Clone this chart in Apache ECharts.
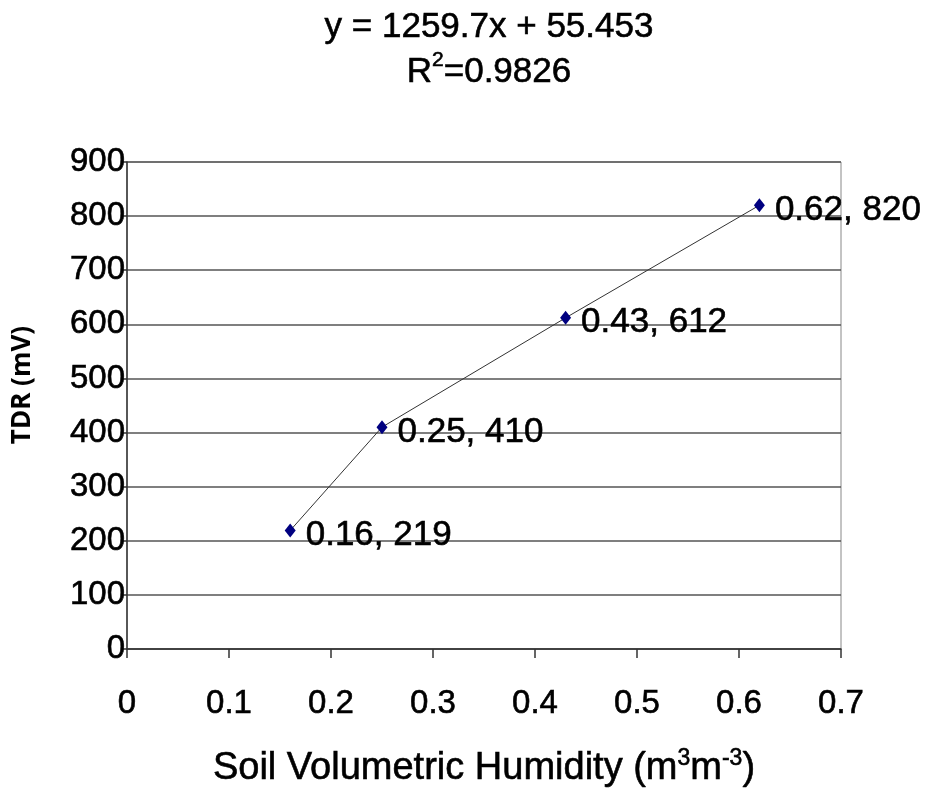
<!DOCTYPE html>
<html><head><meta charset="utf-8">
<script src="https://cdn.jsdelivr.net/npm/echarts@6/dist/echarts.min.js"></script>
<style>html,body{margin:0;padding:0;background:#fff}#c{width:925px;height:791px}</style>
</head><body><div id="c"></div>
<script>
const humidity = [0.16, 0.25, 0.43, 0.62];
const tdr = [219, 410, 612, 820];
const xTicks = [0, 0.1, 0.2, 0.3, 0.4, 0.5, 0.6, 0.7];
const yTicks = [0, 100, 200, 300, 400, 500, 600, 700, 800, 900];
const equationText = 'y = 1259.7x + 55.453';
const r2Value = '0.9826';

const points = humidity.map((x, i) => [x, tdr[i]]);
const FONT = 'Liberation Sans, Arial, sans-serif';
const HEAVY = { textBorderColor: '#000', textBorderWidth: 0.6 };
const chart = echarts.init(document.getElementById('c'));
chart.setOption({
  animation: false,
  backgroundColor: '#fff',
  title: {
    left: 484, textAlign: 'center', top: 0,
    text: '{a|' + equationText + '}\n{a|R}{s|2}{a|=' + r2Value + '}',
    textStyle: {
      rich: {
        a: Object.assign({ fontFamily: FONT, fontWeight: 'normal', fontSize: 35, color: '#000', lineHeight: 45 }, HEAVY),
        s: Object.assign({ fontFamily: FONT, fontWeight: 'normal', fontSize: 21, color: '#000', verticalAlign: 'top', lineHeight: 45, padding: [0,0,14,0] }, HEAVY)
      }
    }
  },
  grid: { left: 127, right: 84, top: 162, bottom: 142, outerBoundsMode: 'none', containLabel: false,
    show: true, borderColor: '#888', borderWidth: 1 },
  xAxis: {
    type: 'value', min: 0, max: 0.7, interval: 0.1,
    axisLine: { lineStyle: { color: '#333', width: 1.5 } },
    axisTick: { show: true, length: 9, lineStyle: { color: '#333', width: 1.5 } },
    splitLine: { show: false },
    axisLabel: Object.assign({ margin: 38, fontFamily: FONT, fontSize: 33, color: '#000',
      formatter: v => { const t = xTicks.find(k => Math.abs(k - v) < 1e-9); return t === undefined ? '' : String(t); } }, HEAVY),
    name: '{a|Soil Volumetric Humidity (m}{s|3}{a|m}{s|-3}{a|)}',
    nameLocation: 'middle', nameGap: 98,
    nameTextStyle: {
      rich: {
        a: Object.assign({ fontFamily: FONT, fontSize: 38, color: '#000', lineHeight: 44 }, HEAVY),
        s: Object.assign({ fontFamily: FONT, fontSize: 23, color: '#000', verticalAlign: 'top', lineHeight: 44, padding: [0,0,16,0] }, HEAVY)
      }
    }
  },
  yAxis: {
    type: 'value', min: 0, max: 900, interval: 100,
    axisLine: { show: true, lineStyle: { color: '#333', width: 1.5 } },
    axisTick: { show: true, length: 5, lineStyle: { color: '#333', width: 1.5 } },
    splitLine: { show: true, lineStyle: { color: '#555', width: 1.5 } },
    axisLabel: Object.assign({ margin: 2, fontFamily: FONT, fontSize: 33, color: '#000',
      formatter: v => { const t = yTicks.find(k => k === v); return t === undefined ? '' : String(t); } }, HEAVY)
  },
  graphic: [{
    type: 'text', x: 23, y: 385, rotation: Math.PI / 2,
    style: { text: 'TDR (mV)', fontFamily: 'Open Sans, sans-serif', fontWeight: 'bold', fontSize: 26, fill: '#000', align: 'center', verticalAlign: 'middle' }
  }],
  series: [{
    type: 'line', data: points,
    symbol: 'diamond', symbolSize: [11, 14],
    itemStyle: { color: '#000080' },
    lineStyle: { color: '#333', width: 1 },
    label: Object.assign({ show: true, position: 'right', distance: 10, offset: [0, 5],
      fontFamily: FONT, fontSize: 35, color: '#000',
      formatter: p => p.data[0] + ', ' + p.data[1] }, HEAVY)
  }]
});
</script></body></html>
